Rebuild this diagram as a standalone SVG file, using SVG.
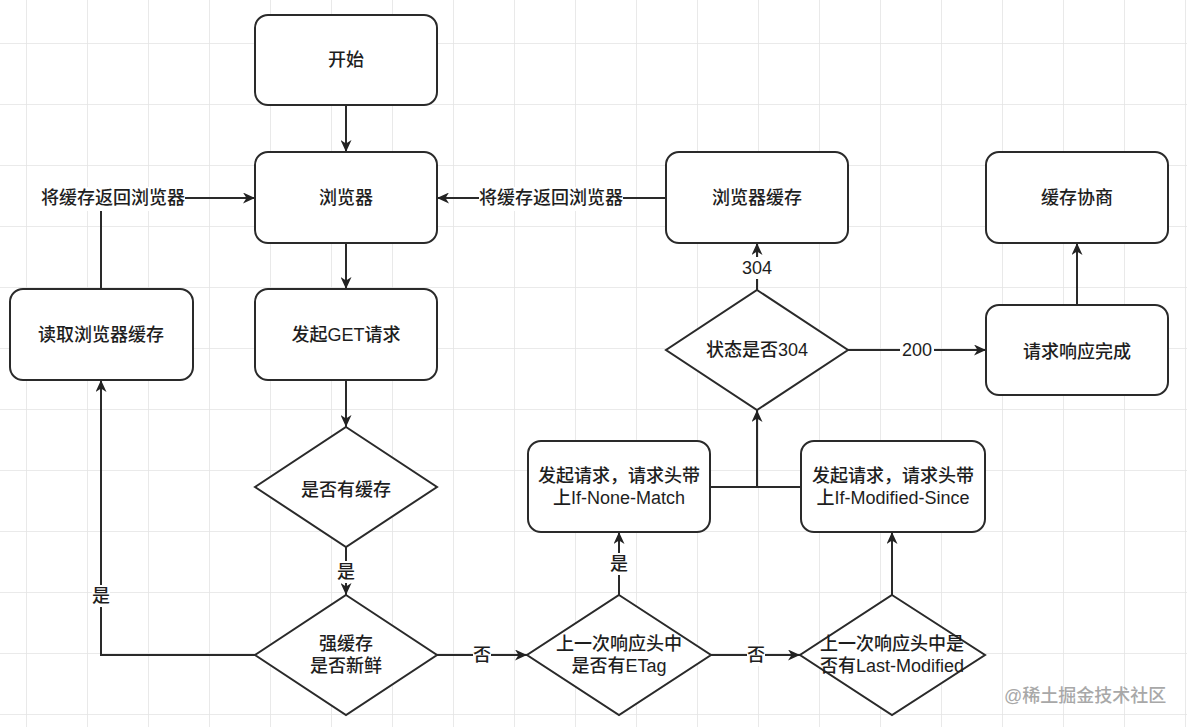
<svg xmlns="http://www.w3.org/2000/svg" width="1187" height="727" viewBox="0 0 1187 727">
<defs>
<pattern id="grid" x="26" y="43" width="61" height="61" patternUnits="userSpaceOnUse">
<path d="M0,0 H61 M0,0 V61" fill="none" stroke="#e4e4e4" stroke-width="1.6"/>
</pattern>
<marker id="arr" viewBox="0 0 12 11" refX="12" refY="5.5" markerWidth="12" markerHeight="11" markerUnits="userSpaceOnUse" orient="auto">
<path d="M0,0 L12,5.5 L0,11 L3.5,5.5 Z" fill="#222"/>
</marker>
<style>
.n{fill:#fff;stroke:#2a2a2a;stroke-width:2}
.e{fill:none;stroke:#2a2a2a;stroke-width:2}
text{font-family:"Liberation Sans","Noto Sans CJK SC",sans-serif;font-size:18px;font-weight:500;fill:#1e1e1e;text-anchor:middle;dominant-baseline:central}
.lb{fill:#fff;stroke:none}
.wm{font-size:18px;fill:#a8a8a8;text-anchor:start}
</style>
</defs>
<rect width="1187" height="727" fill="#fff"/>
<rect width="1187" height="727" fill="url(#grid)"/>

<g id="connectors">
<path class="e" d="M346,105 V152" marker-end="url(#arr)"/>
<path class="e" d="M346,243 V289" marker-end="url(#arr)"/>
<path class="e" d="M346,380 V427" marker-end="url(#arr)"/>
<path class="e" d="M346,547 V595" marker-end="url(#arr)"/>
<path class="e" d="M255,655 H101 V380" marker-end="url(#arr)"/>
<path class="e" d="M101,289 V198 H255" marker-end="url(#arr)"/>
<path class="e" d="M666,198 H437" marker-end="url(#arr)"/>
<path class="e" d="M757,290 V243" marker-end="url(#arr)"/>
<path class="e" d="M848,350 H986" marker-end="url(#arr)"/>
<path class="e" d="M1077,305 V243" marker-end="url(#arr)"/>
<path class="e" d="M437,655 H527" marker-end="url(#arr)"/>
<path class="e" d="M619,595 V532" marker-end="url(#arr)"/>
<path class="e" d="M711,655 H800" marker-end="url(#arr)"/>
<path class="e" d="M892,595 V532" marker-end="url(#arr)"/>
<path class="e" d="M710,487 H801"/>
<path class="e" d="M757,487 V410" marker-end="url(#arr)"/>
<g id="edge-labels">
<rect class="lb" x="41" y="187" width="144" height="24"/>
<text x="113" y="198">将缓存返回浏览器</text>
<rect class="lb" x="479" y="187" width="144" height="24"/>
<text x="551" y="198">将缓存返回浏览器</text>
<rect class="lb" x="740" y="257" width="34" height="22"/>
<text x="757" y="268">304</text>
<rect class="lb" x="900" y="339" width="34" height="22"/>
<text x="917" y="350">200</text>
<rect class="lb" x="337" y="561" width="18" height="22"/>
<text x="346" y="572">是</text>
<rect class="lb" x="92" y="585" width="18" height="22"/>
<text x="101" y="596">是</text>
<rect class="lb" x="473" y="644" width="18" height="22"/>
<text x="482" y="655">否</text>
<rect class="lb" x="610" y="553" width="18" height="22"/>
<text x="619" y="564">是</text>
<rect class="lb" x="747" y="644" width="18" height="22"/>
<text x="756" y="655">否</text>
</g>
</g>

<g id="start"><rect class="n" x="255" y="15" width="182" height="90" rx="13"/><text x="346" y="60">开始</text></g>
<g id="browser"><rect class="n" x="255" y="152" width="182" height="91" rx="13"/><text x="346" y="198">浏览器</text></g>
<g id="get"><rect class="n" x="255" y="289" width="182" height="91" rx="13"/><text x="346" y="335">发起GET请求</text></g>
<g id="readcache"><rect class="n" x="10" y="289" width="183" height="91" rx="13"/><text x="101" y="335">读取浏览器缓存</text></g>
<g id="hascache"><path class="n" d="M346,427 L437,487 L346,547 L255,487 Z"/><text x="346" y="490">是否有缓存</text></g>
<g id="fresh"><path class="n" d="M346,595 L437,655 L346,715 L255,655 Z"/><text x="346" y="644">强缓存</text><text x="346" y="666">是否新鲜</text></g>
<g id="etag"><path class="n" d="M619,595 L711,655 L619,715 L527,655 Z"/><text x="619" y="644">上一次响应头中</text><text x="619" y="666">是否有ETag</text></g>
<g id="lastmod"><path class="n" d="M892,595 L985,655 L892,715 L800,655 Z"/><text x="892" y="644">上一次响应头中是</text><text x="892" y="666">否有Last-Modified</text></g>
<g id="inm"><rect class="n" x="528" y="441" width="182" height="91" rx="13"/><text x="619" y="476">发起请求，请求头带</text><text x="619" y="498">上If-None-Match</text></g>
<g id="ims"><rect class="n" x="801" y="441" width="184" height="91" rx="13"/><text x="893" y="476">发起请求，请求头带</text><text x="893" y="498">上If-Modified-Since</text></g>
<g id="is304"><path class="n" d="M757,290 L848,350 L757,410 L666,350 Z"/><text x="757" y="350">状态是否304</text></g>
<g id="bcache"><rect class="n" x="666" y="152" width="182" height="91" rx="13"/><text x="757" y="198">浏览器缓存</text></g>
<g id="nego"><rect class="n" x="986" y="152" width="182" height="91" rx="13"/><text x="1077" y="198">缓存协商</text></g>
<g id="done"><rect class="n" x="986" y="305" width="182" height="90" rx="13"/><text x="1077" y="352">请求响应完成</text></g>

<text class="wm" x="1004" y="696">@稀土掘金技术社区</text>
</svg>
